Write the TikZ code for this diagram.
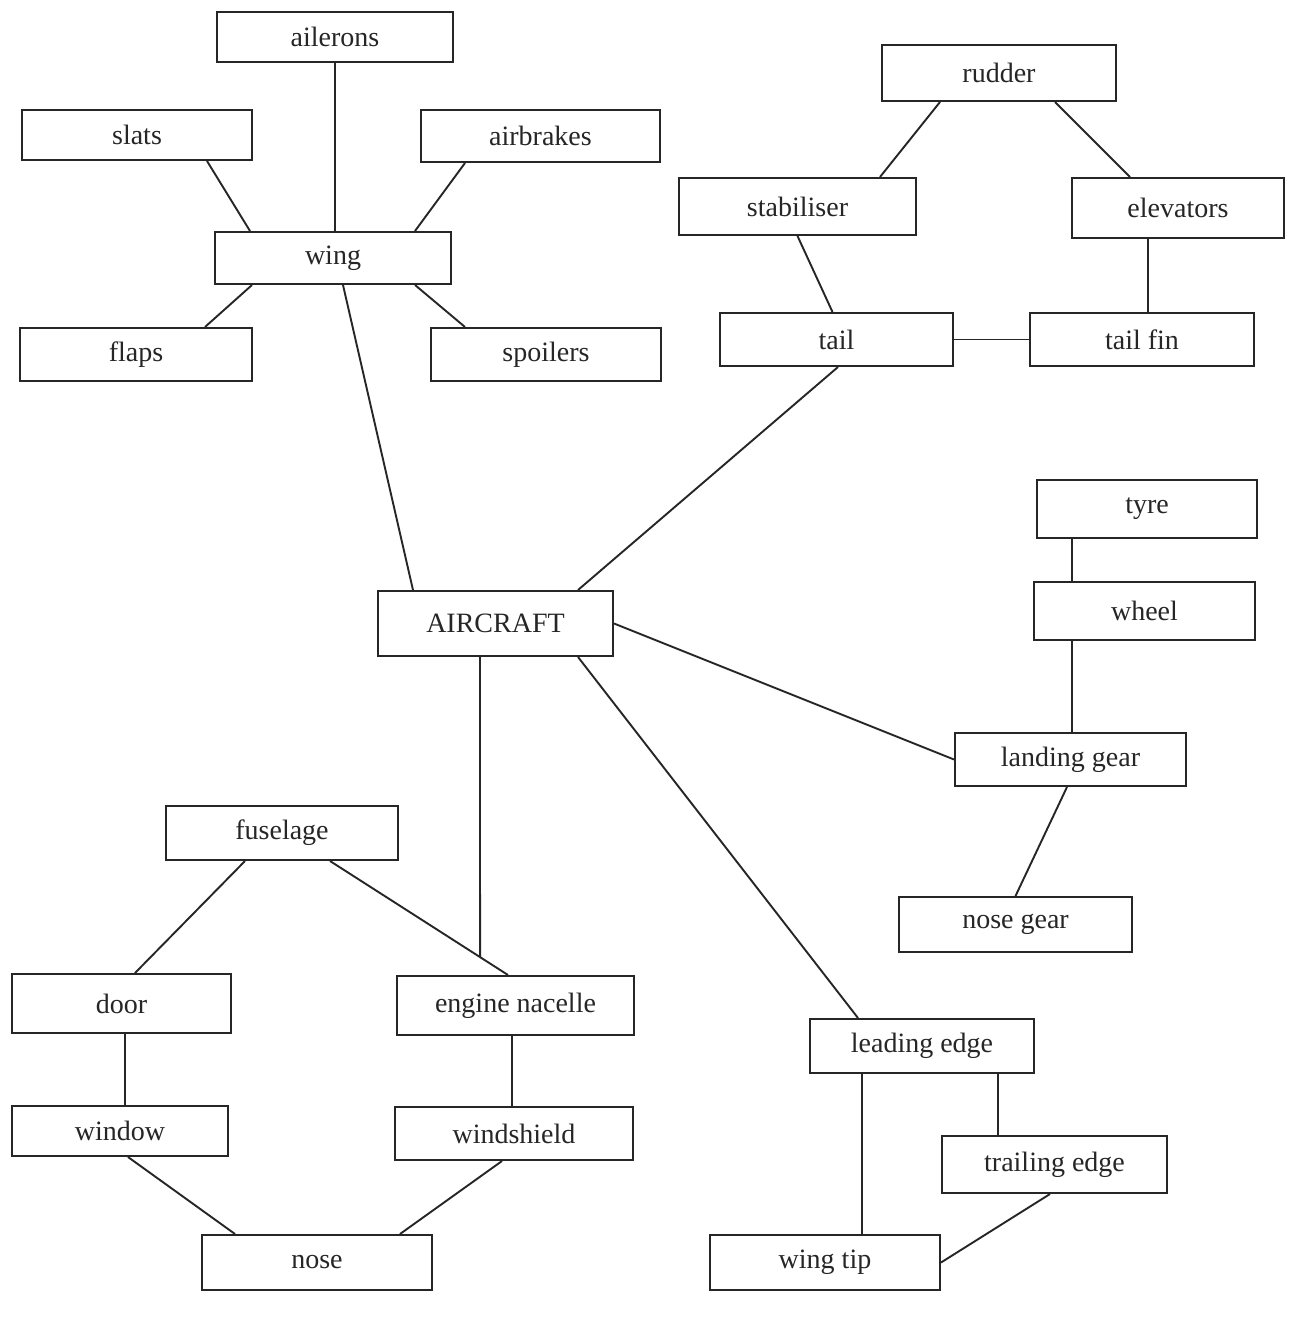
\documentclass[tikz,border=0pt]{standalone}
\usepackage{fontspec}
\setmainfont{Liberation Serif}
\usetikzlibrary{calc}
\tikzset{
  bx/.style 2 args={draw=black!85, line width=2pt, rectangle, inner sep=0pt,
    minimum width=#1pt, minimum height=#2pt,
    font=\fontsize{28}{30}\selectfont, text=black!85},
  ln/.style={draw=black!85, line width=1.9pt}
}
\begin{document}
\begin{tikzpicture}[x=1pt,y=-1pt]
\fill[white] (0,0) rectangle (1290,1335);
\useasboundingbox (0,0) rectangle (1290,1335);
% nodes
\node[bx={236}{50}] (ailerons) at (335,37) {ailerons};
\node[bx={230}{50}] (slats) at (137,135) {slats};
\node[bx={239}{52}] (airbrakes) at (540.5,136) {airbrakes};
\node[bx={236}{52}] (wing) at (333,258) {wing};
\node[bx={232}{53}] (flaps) at (136,354.5) {flaps};
\node[bx={230}{53}] (spoilers) at (546,354.5) {spoilers};
\node[bx={234}{56}] (rudder) at (999,73) {rudder};
\node[bx={237}{57}] (stabiliser) at (797.5,206.5) {stabiliser};
\node[bx={212}{60}] (elevators) at (1178,208) {elevators};
\node[bx={233}{53}] (tail) at (836.5,339.5) {tail};
\node[bx={224}{53}] (tailfin) at (1142,339.5) {tail fin};
\node[bx={220}{58}] (tyre) at (1147,509) {tyre};
\node[bx={221}{58}] (wheel) at (1144.5,611) {wheel};
\node[bx={235}{65}] (aircraft) at (495.5,623.5) {AIRCRAFT};
\node[bx={231}{53}] (landing) at (1070.5,759.5) {landing gear};
\node[bx={233}{55}] (nosegear) at (1015.5,924.5) {nose gear};
\node[bx={232}{54}] (fuselage) at (282,833) {fuselage};
\node[bx={219}{59}] (door) at (121.5,1003.5) {door};
\node[bx={237}{59}] (engine) at (515.5,1005.5) {engine nacelle};
\node[bx={224}{54}] (leading) at (922,1046) {leading edge};
\node[bx={216}{50}] (window) at (120,1131) {window};
\node[bx={238}{53}] (windshield) at (514,1133.5) {windshield};
\node[bx={225}{57}] (trailing) at (1054.5,1164.5) {trailing edge};
\node[bx={230}{55}] (nose) at (317,1262.5) {nose};
\node[bx={230}{55}] (wingtip) at (825,1262.5) {wing tip};
% wing group
\draw[ln] (ailerons.south) -- (ailerons.south |- wing.north);
\draw[ln] ([xshift=70pt]slats.south) -- ([xshift=-83pt]wing.north);
\draw[ln] ([xshift=-75.5pt]airbrakes.south) -- ([xshift=82pt]wing.north);
\draw[ln] ([xshift=-81pt]wing.south) -- ([xshift=69pt]flaps.north);
\draw[ln] ([xshift=82pt]wing.south) -- ([xshift=-81pt]spoilers.north);
\draw[ln] ([xshift=10pt]wing.south) -- ([xshift=-82.5pt]aircraft.north);
% tail group
\draw[ln] ([xshift=-59pt]rudder.south) -- ([xshift=82.5pt]stabiliser.north);
\draw[ln] ([xshift=56pt]rudder.south) -- ([xshift=-48pt]elevators.north);
\draw[ln] (stabiliser.south) -- ([xshift=-4pt]tail.north);
\draw[ln] ([xshift=-30pt]elevators.south) -- ([xshift=-30pt]elevators.south |- tailfin.north);
\draw[ln] (tail.east) -- (tailfin.west);
\draw[ln] ([xshift=1.5pt]tail.south) -- ([xshift=82.5pt]aircraft.north);
% landing gear group
\draw[ln] ([xshift=-75pt]tyre.south) -- ([xshift=-75pt]tyre.south |- wheel.north);
\draw[ln] ([xshift=-72.5pt]wheel.south) -- ([xshift=-72.5pt]wheel.south |- landing.north);
\draw[ln] (aircraft.east) -- (landing.west);
\draw[ln] ([xshift=-3.5pt]landing.south) -- (nosegear.north);
% leading edge group
\draw[ln] ([xshift=82.5pt]aircraft.south) -- ([xshift=-64pt]leading.north);
\draw[ln] ([xshift=-60pt]leading.south) -- ([xshift=-60pt]leading.south |- wingtip.north);
\draw[ln] ([xshift=76pt]leading.south) -- ([xshift=76pt]leading.south |- trailing.north);
\draw[ln] ([xshift=-4.5pt]trailing.south) -- (wingtip.east);
% fuselage group
\coordinate (fe1) at ([xshift=48pt]fuselage.south);
\coordinate (fe2) at ([xshift=-7.5pt]engine.north);
\coordinate (junc) at ($(fe1)!0.843!(fe2)$);
\draw[ln] ([xshift=-37pt]fuselage.south) -- ([xshift=13.5pt]door.north);
\draw[ln] (fe1) -- (fe2);
\draw[ln] ([xshift=-15.5pt]aircraft.south) -- (junc);
\draw[ln] ([xshift=-3.5pt]engine.south) -- ([xshift=-3.5pt]engine.south |- windshield.north);
\draw[ln] ([xshift=3.5pt]door.south) -- ([xshift=3.5pt]door.south |- window.north);
\draw[ln] ([xshift=8pt]window.south) -- ([xshift=-82pt]nose.north);
\draw[ln] ([xshift=-12pt]windshield.south) -- ([xshift=83pt]nose.north);
\end{tikzpicture}
\end{document}
